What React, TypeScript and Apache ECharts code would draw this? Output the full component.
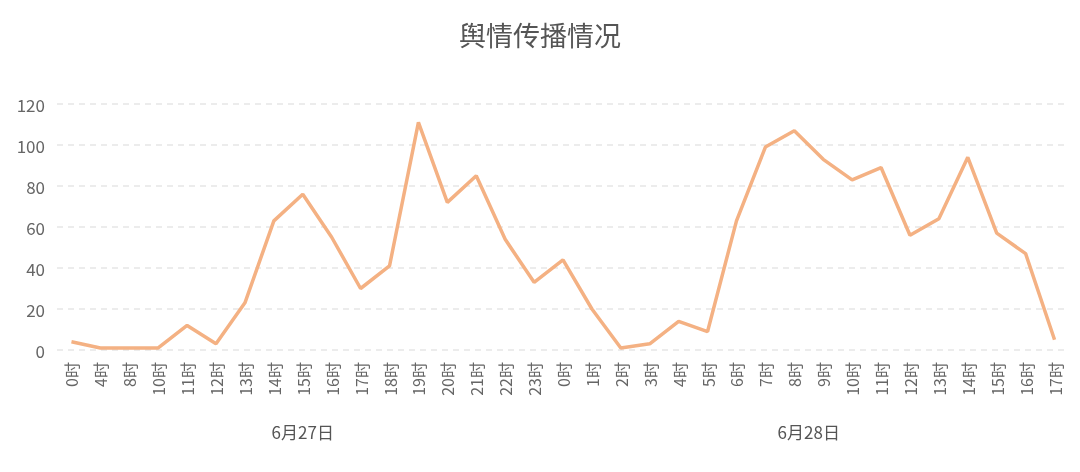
import React, { useEffect, useRef } from "react";
import * as echarts from "echarts";

const title = "舆情传播情况";
const day1Hours = ["0时", "4时", "8时", "10时", "11时", "12时", "13时", "14时", "15时", "16时", "17时", "18时", "19时", "20时", "21时", "22时", "23时"];
const day2Hours = ["0时", "1时", "2时", "3时", "4时", "5时", "6时", "7时", "8时", "9时", "10时", "11时", "12时", "13时", "14时", "15时", "16时", "17时"];
const day1Values = [4, 1, 1, 1, 12, 3, 23, 63, 76, 55, 30, 41, 111, 72, 85, 54, 33];
const day2Values = [44, 20, 1, 3, 14, 9, 63, 99, 107, 93, 83, 89, 56, 64, 94, 57, 47, 5];
const dayLabels = ["6月27日", "6月28日"];
const yTicks = [0, 20, 40, 60, 80, 100, 120];

export default function App() {
  const ref = useRef<HTMLDivElement>(null);
  useEffect(() => {
    if (!ref.current) return;
    const chart = echarts.init(ref.current, null, { renderer: "svg" });
    const categories = [...day1Hours, ...day2Hours];
    const values = [...day1Values, ...day2Values];
    const n = categories.length;
    const c1 = (day1Hours.length - 1) / 2;
    const c2 = day1Hours.length + (day2Hours.length - 1) / 2;
    const font = "'Noto Sans CJK SC', 'Noto Sans', sans-serif";
    chart.setOption({
      animation: false,
      title: {
        text: title,
        left: "center",
        top: 16,
        textStyle: { fontSize: 27, fontWeight: "normal", color: "#555", fontFamily: font },
      },
      grid: { left: 57, right: 11, top: 104, bottom: 122 },
      xAxis: [
        {
          type: "category",
          data: categories,
          boundaryGap: true,
          axisLine: { show: false },
          axisTick: { show: false },
          axisLabel: { rotate: 90, interval: 0, fontSize: 16, color: "#666", margin: 12, fontFamily: font },
        },
        {
          type: "value",
          position: "bottom",
          min: -0.5,
          max: n - 0.5,
          interval: 0.5,
          axisLine: { show: false },
          axisTick: { show: false },
          splitLine: { show: false },
          axisLabel: {
            margin: 73,
            fontSize: 17,
            color: "#555",
            fontFamily: font,
            showMinLabel: true,
            showMaxLabel: true,
            formatter: (v: number) => (v === c1 ? dayLabels[0] : v === c2 ? dayLabels[1] : ""),
          },
        },
      ],
      yAxis: {
        type: "value",
        min: yTicks[0],
        max: yTicks[yTicks.length - 1],
        interval: 20,
        axisLine: { show: false },
        axisTick: { show: false },
        axisLabel: { fontSize: 17, color: "#666", margin: 12, fontFamily: font },
        splitLine: { lineStyle: { type: [6, 5], color: "#e6e6e6", width: 1.5 } },
      },
      series: [
        {
          type: "line",
          data: values,
          showSymbol: false,
          symbol: "none",
          lineStyle: { color: "#F4B183", width: 3.5 },
          itemStyle: { color: "#F4B183" },
        },
      ],
    });
    return () => chart.dispose();
  }, []);
  return <div ref={ref} style={{ position: "fixed", left: 0, top: 0, width: 1080, height: 472 }} />;
}
